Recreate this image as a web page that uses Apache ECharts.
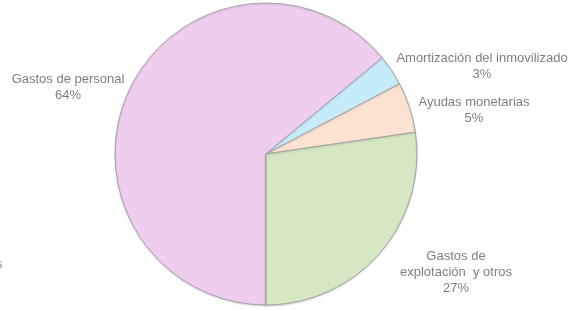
<!DOCTYPE html>
<html>
<head>
<meta charset="utf-8">
<script src="https://cdn.jsdelivr.net/npm/echarts@6/dist/echarts.min.js"></script>
<style>
  html, body { margin: 0; padding: 0; background: #fff; }
  #chart { width: 571px; height: 311px; }
</style>
</head>
<body>
<div id="chart"></div>
<script>
var names = ['Gastos de personal', 'Amortización del inmovilizado', 'Ayudas monetarias', 'Gastos de\nexplotación  y otros'];
var values = [64.0, 3.3, 5.4, 27.3];
var colors = ['#efcdef', '#c6ebfb', '#fce3d1', '#d5e8c3'];

var chart = echarts.init(document.getElementById('chart'), null, { renderer: 'canvas' });

// label centres
var labelPos = [[68, 87], [482, 66], [474, 110], [456, 272]];

var data = names.map(function(n, i) {
  return { name: n, value: values[i], itemStyle: { color: colors[i] } };
});

chart.setOption({
  animation: false,
  graphic: [{
    type: 'text', left: -4, top: 258,
    style: { text: 's', fill: '#8a8a8a', font: '13px "Liberation Sans", Arial, sans-serif' }
  }],
  series: [{
    type: 'pie',
    center: [266, 154],
    radius: 151,
    startAngle: 270,
    clockwise: true,
    data: data,
    itemStyle: {
      borderColor: '#a3a3a3',
      borderWidth: 1,
      shadowColor: 'rgba(0,0,0,0.15)',
      shadowBlur: 2,
      shadowOffsetY: 1
    },
    label: {
      show: true,
      position: 'outside',
      color: '#7f7f7f',
      fontFamily: '"Liberation Sans", Arial, sans-serif',
      fontSize: 13,
      lineHeight: 16,
      align: 'center',
      overflow: 'none',
      formatter: function(p) {
        return p.name + '\n' + Math.round(p.percent) + '%';
      }
    },
    labelLine: { show: false },
    labelLayout: function(params) {
      var p = labelPos[params.dataIndex];
      return { x: p[0], y: p[1], align: 'center', verticalAlign: 'middle' };
    },
    emphasis: { disabled: true }
  }]
});
window.addEventListener('resize', function() { chart.resize(); });
</script>
</body>
</html>
